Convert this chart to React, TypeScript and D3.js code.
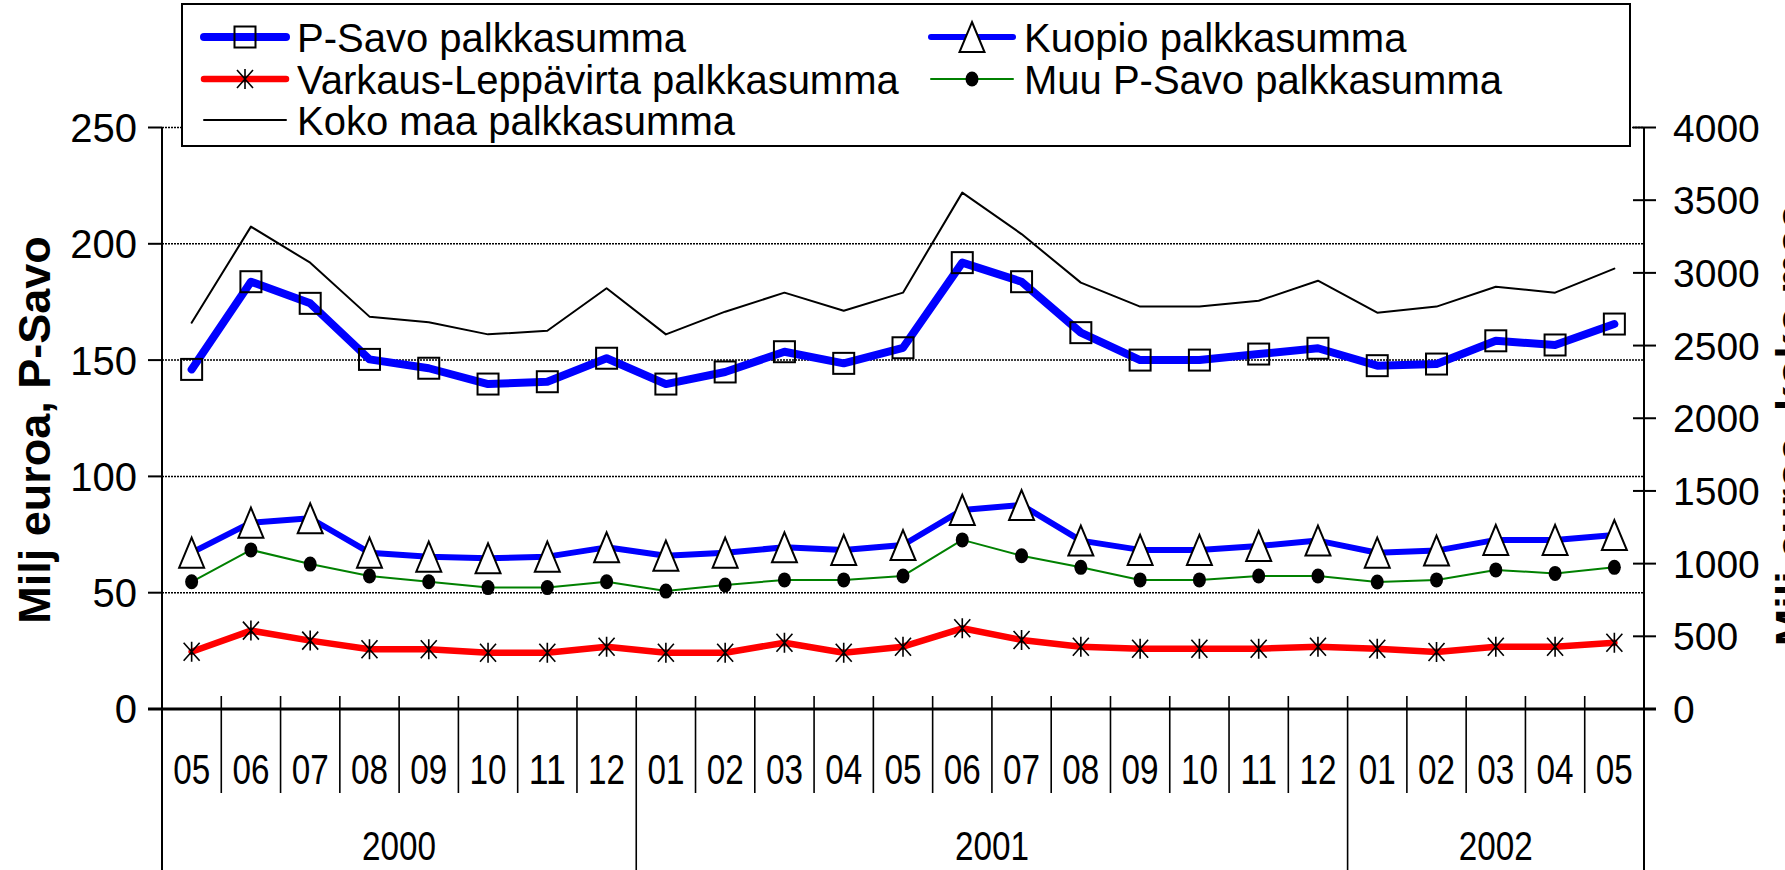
import React, { useEffect, useRef } from 'react';
import * as d3 from 'd3';

// months 2000-05 .. 2002-05
const months = ['05', '06', '07', '08', '09', '10', '11', '12', '01', '02', '03', '04', '05', '06', '07', '08', '09', '10', '11', '12', '01', '02', '03', '04', '05'];
const yearLabels = ['2000', '2001', '2002'];
const yearSpans = [8, 12, 5];

// Milj euroa (left axis)
const pSavo = [146.0, 183.7, 174.4, 150.3, 146.5, 139.7, 140.7, 150.8, 139.7, 144.9, 153.6, 148.6, 155.3, 191.9, 183.7, 161.8, 150.0, 150.0, 152.6, 155.1, 147.6, 148.3, 158.3, 156.5, 165.5];
const kuopio = [67.2, 80.1, 82.0, 67.2, 65.5, 64.8, 65.5, 69.5, 65.9, 67.2, 69.5, 68.4, 70.5, 85.6, 87.7, 72.4, 68.4, 68.4, 70.1, 72.4, 67.2, 68.1, 72.7, 72.7, 74.8];
const varkaus = [24.6, 33.7, 29.4, 25.7, 25.7, 24.2, 24.2, 26.8, 24.2, 24.2, 28.5, 24.2, 26.8, 34.7, 29.7, 26.8, 25.9, 25.9, 25.9, 26.8, 25.9, 24.5, 26.8, 26.8, 28.5];
const muuPSavo = [54.7, 68.4, 62.3, 57.2, 54.7, 52.2, 52.2, 54.7, 50.7, 53.3, 55.5, 55.5, 57.2, 72.7, 65.9, 60.9, 55.5, 55.5, 57.2, 57.2, 54.6, 55.5, 59.8, 58.3, 60.9];
// Milj euroa (right axis)
const kokoMaa = [2657, 3318, 3070, 2699, 2660, 2577, 2602, 2894, 2577, 2733, 2864, 2740, 2864, 3552, 3267, 2933, 2768, 2768, 2808, 2946, 2726, 2768, 2905, 2864, 3029];

const leftTicks = [0, 50, 100, 150, 200, 250];
const rightTicks = [0, 500, 1000, 1500, 2000, 2500, 3000, 3500, 4000];
const gridValues = [50, 100, 150, 200, 250];

const W = 1785, H = 870;
const FONT = 'Liberation Sans, Arial, sans-serif';
const NARROW = 'Liberation Sans Narrow, Arial Narrow, Liberation Sans, Arial, sans-serif';

type Marker = 'square' | 'triangle' | 'star' | 'dot' | 'none';
interface Series { name: string; values: number[]; axis: 'left' | 'right'; color: string; width: number; marker: Marker; }

const series: Series[] = [
  { name: 'Koko maa palkkasumma', values: kokoMaa, axis: 'right', color: '#000000', width: 2, marker: 'none' },
  { name: 'Muu P-Savo palkkasumma', values: muuPSavo, axis: 'left', color: '#008000', width: 2, marker: 'dot' },
  { name: 'Varkaus-Leppävirta palkkasumma', values: varkaus, axis: 'left', color: '#ff0000', width: 6.5, marker: 'star' },
  { name: 'Kuopio palkkasumma', values: kuopio, axis: 'left', color: '#0000ff', width: 6, marker: 'triangle' },
  { name: 'P-Savo palkkasumma', values: pSavo, axis: 'left', color: '#0000ff', width: 8, marker: 'square' },
];

function drawMarker(g: d3.Selection<SVGGElement, unknown, null, undefined>, type: Marker, cx: number, cy: number) {
  if (type === 'square') {
    g.append('rect').attr('x', cx - 10.5).attr('y', cy - 10.5).attr('width', 21).attr('height', 21)
      .attr('fill', 'none').attr('stroke', '#000').attr('stroke-width', 2);
  } else if (type === 'triangle') {
    g.append('path').attr('d', `M${cx},${cy - 15}L${cx + 12.5},${cy + 15}L${cx - 12.5},${cy + 15}Z`)
      .attr('fill', '#fff').attr('stroke', '#000').attr('stroke-width', 2);
  } else if (type === 'star') {
    g.append('path')
      .attr('d', `M${cx},${cy - 10}V${cy + 10}M${cx - 8},${cy - 9}L${cx + 8},${cy + 9}M${cx - 8},${cy + 9}L${cx + 8},${cy - 9}`)
      .attr('stroke', '#000').attr('stroke-width', 1.6).attr('fill', 'none');
  } else if (type === 'dot') {
    g.append('ellipse').attr('cx', cx).attr('cy', cy).attr('rx', 6.5).attr('ry', 7.5).attr('fill', '#000');
  }
}

const Chart: React.FC = () => {
  const ref = useRef<SVGSVGElement>(null);

  useEffect(() => {
    if (!ref.current) return;
    const svg = d3.select(ref.current);
    svg.selectAll('*').remove();

    const xLeft = 162, xRight = 1644, yTop = 127.5, yBottom = 709;

    const x = d3.scaleBand<number>().domain(d3.range(months.length)).range([xLeft, xRight]);
    const yL = d3.scaleLinear().domain([0, 250]).range([yBottom, yTop]);
    const yR = d3.scaleLinear().domain([0, 4000]).range([yBottom, yTop]);
    const cx = (i: number) => (x(i) ?? 0) + x.bandwidth() / 2;

    // gridlines
    svg.append('g').selectAll('line').data(gridValues).enter().append('line')
      .attr('x1', xLeft).attr('x2', xRight)
      .attr('y1', d => yL(d)).attr('y2', d => yL(d))
      .attr('stroke', '#000').attr('stroke-width', 1.5).attr('stroke-dasharray', '2,1');

    // series
    series.forEach(s => {
      const y = s.axis === 'left' ? yL : yR;
      const line = d3.line<number>().x((_, i) => cx(i)).y(d => y(d));
      const g = svg.append('g');
      g.append('path').attr('d', line(s.values) ?? '')
        .attr('fill', 'none').attr('stroke', s.color).attr('stroke-width', s.width)
        .attr('stroke-linejoin', 'round').attr('stroke-linecap', 'round');
      s.values.forEach((v, i) => drawMarker(g, s.marker, cx(i), y(v)));
    });

    // axes
    const ax = svg.append('g').attr('stroke', '#000');
    ax.append('line').attr('x1', xLeft).attr('x2', xLeft).attr('y1', yTop).attr('y2', H).attr('stroke-width', 2);
    ax.append('line').attr('x1', xRight).attr('x2', xRight).attr('y1', yTop).attr('y2', H).attr('stroke-width', 2);
    ax.append('line').attr('x1', xLeft - 14).attr('x2', xRight + 12).attr('y1', yBottom).attr('y2', yBottom).attr('stroke-width', 3);

    leftTicks.forEach(t => {
      ax.append('line').attr('x1', xLeft - 14).attr('x2', xLeft).attr('y1', yL(t)).attr('y2', yL(t)).attr('stroke-width', 2);
      svg.append('text').attr('x', 137).attr('y', yL(t)).attr('dy', '0.36em').attr('text-anchor', 'end')
        .attr('font-family', FONT).attr('font-size', 40).text(t);
    });
    rightTicks.forEach(t => {
      ax.append('line').attr('x1', xRight - 11).attr('x2', xRight + 12).attr('y1', yR(t)).attr('y2', yR(t)).attr('stroke-width', 2);
      svg.append('text').attr('x', 1673).attr('y', yR(t)).attr('dy', '0.36em').attr('text-anchor', 'start')
        .attr('font-family', FONT).attr('font-size', 39).text(t);
    });

    // category separators
    const yearStarts: number[] = [];
    yearSpans.reduce((acc, n) => { yearStarts.push(acc); return acc + n; }, 0);
    for (let i = 1; i < months.length; i++) {
      const bx = x(i) ?? 0;
      const isYear = yearStarts.includes(i);
      ax.append('line').attr('x1', bx).attr('x2', bx).attr('y1', 696).attr('y2', isYear ? H : 793).attr('stroke-width', 1.6);
    }
    months.forEach((m, i) => {
      svg.append('text').attr('x', cx(i)).attr('y', 784).attr('text-anchor', 'middle')
        .attr('font-family', NARROW).attr('font-size', 42)
        .attr('textLength', 37).attr('lengthAdjust', 'spacingAndGlyphs').text(m);
    });
    yearLabels.forEach((yl, k) => {
      const start = yearStarts[k];
      const end = start + yearSpans[k];
      const mid = ((x(start) ?? 0) + (end >= months.length ? xRight : (x(end) ?? 0))) / 2;
      svg.append('text').attr('x', mid).attr('y', 860).attr('text-anchor', 'middle')
        .attr('font-family', NARROW).attr('font-size', 41)
        .attr('textLength', 74).attr('lengthAdjust', 'spacingAndGlyphs').text(yl);
    });

    // axis titles
    svg.append('text').attr('transform', 'translate(50,430) rotate(-90)').attr('text-anchor', 'middle')
      .attr('font-family', FONT).attr('font-weight', 'bold').attr('font-size', 45).text('Milj euroa, P-Savo');
    svg.append('text').attr('transform', 'translate(1807,425) rotate(-90)').attr('text-anchor', 'middle')
      .attr('font-family', FONT).attr('font-weight', 'bold').attr('font-size', 45).text('Milj euroa, koko maa');

    // legend
    const lg = svg.append('g');
    lg.append('rect').attr('x', 182).attr('y', 4).attr('width', 1448).attr('height', 142)
      .attr('fill', '#fff').attr('stroke', '#000').attr('stroke-width', 2);
    const byName = (n: string) => series.find(s => s.name === n) as Series;
    const legendItems = [
      { s: byName('P-Savo palkkasumma'), x0: 204, row: 0 },
      { s: byName('Varkaus-Leppävirta palkkasumma'), x0: 204, row: 1 },
      { s: byName('Koko maa palkkasumma'), x0: 204, row: 2 },
      { s: byName('Kuopio palkkasumma'), x0: 931, row: 0 },
      { s: byName('Muu P-Savo palkkasumma'), x0: 931, row: 1 },
    ];
    const rowY = [37, 79, 120];
    legendItems.forEach(({ s, x0, row }) => {
      const ly = rowY[row];
      const g = lg.append('g');
      g.append('line').attr('x1', x0).attr('x2', x0 + 82).attr('y1', ly).attr('y2', ly)
        .attr('stroke', s.color).attr('stroke-width', s.width).attr('stroke-linecap', 'round');
      drawMarker(g, s.marker, x0 + 41, ly);
      g.append('text').attr('x', x0 + 93).attr('y', ly + 14.5)
        .attr('font-family', FONT).attr('font-size', 40).text(s.name);
    });
  }, []);

  return <svg ref={ref} width={W} height={H} style={{ display: 'block' }} />;
};

const App: React.FC = () => (
  <div style={{ position: 'absolute', left: 0, top: 0, width: W, height: H, background: '#fff', overflow: 'hidden' }}>
    <Chart />
  </div>
);

export default App;
